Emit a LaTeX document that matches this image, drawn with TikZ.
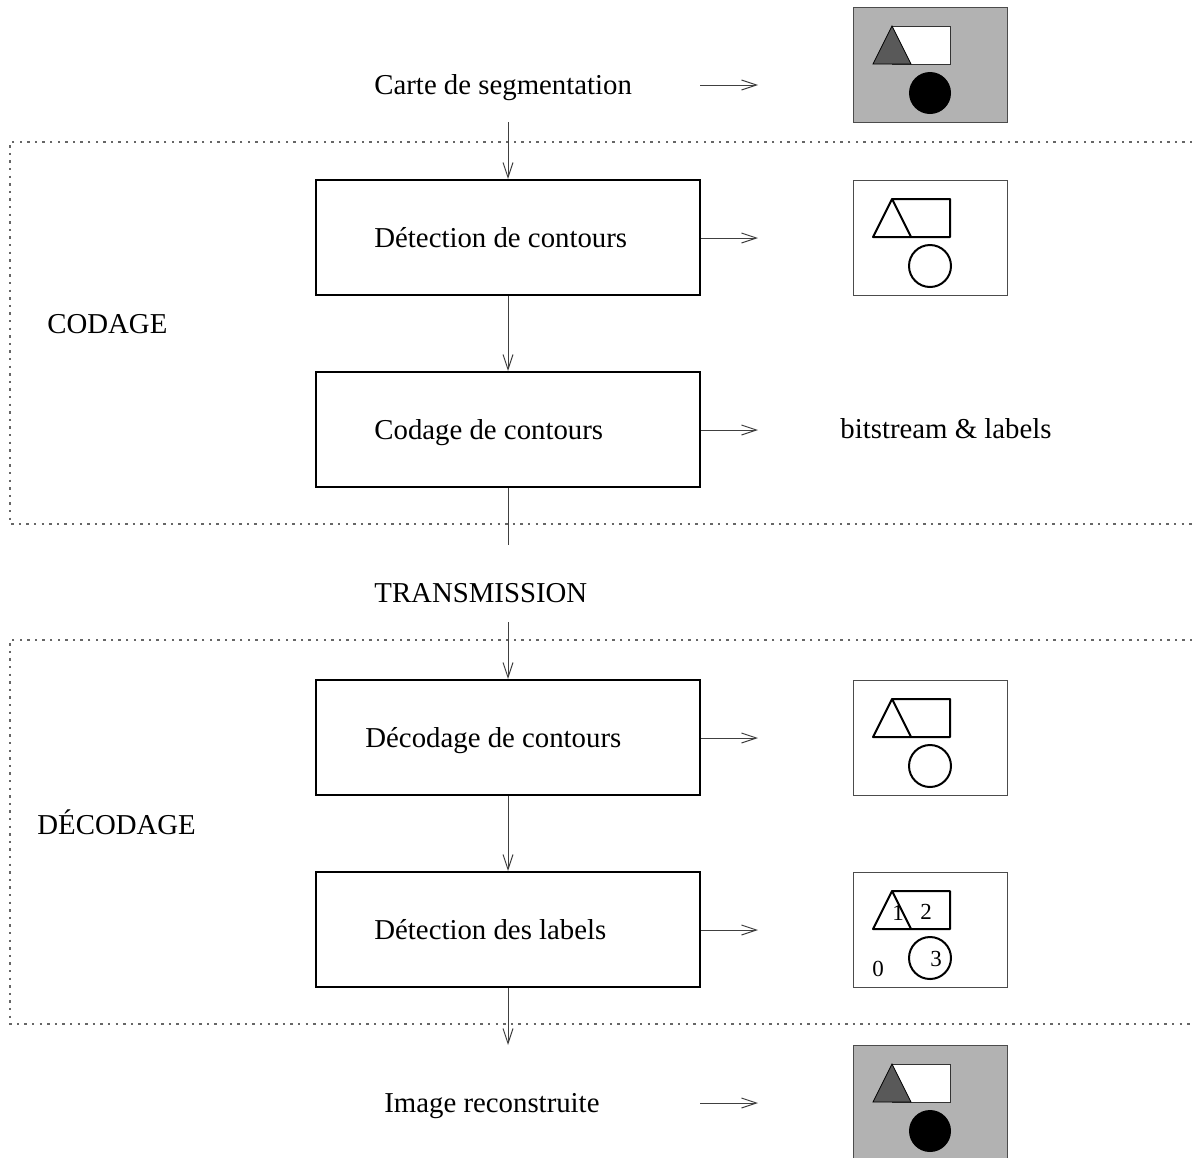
\documentclass[tikz,border=0pt]{standalone}
\usepackage{fontspec}
\setmainfont{Liberation Serif}
\usetikzlibrary{arrows.meta}

\definecolor{mapgray}{gray}{0.70}
\definecolor{darkshape}{gray}{0.35}

\tikzset{
  lbl/.style={anchor=base west, inner sep=0pt, font=\fontsize{14.4}{17}\selectfont},
  smalllbl/.style={inner sep=0pt, font=\fontsize{11.5}{13}\selectfont},
  stagebox/.style={draw=black, line width=1pt, minimum width=192pt, minimum height=57.5pt, inner sep=0pt},
  frame/.style={draw=black!70, line width=0.5pt, minimum width=77pt, minimum height=57.5pt, inner sep=0pt, outer sep=0pt},
  arr/.style={draw=black!75, line width=0.5pt, -{Straight Barb[length=7.5pt,width=5pt]}},
  link/.style={draw=black!75, line width=0.5pt},
  region/.style={draw=black!60, line width=0.6pt, dash pattern=on 1.2pt off 2.6pt},
  % segmentation map: grey background, dark triangle, white rectangle, black disc
  filledscene/.pic={
    \draw[black!80, line width=0.4pt, fill=white] (39,19) rectangle (97,57);
    \draw[black, line width=0.4pt, fill=darkshape] (20,57) -- (39,19) -- (58,57) -- cycle;
    \fill[black] (77,86) circle (21);
  },
  % contour map: outlines only
  outlinescene/.pic={
    \draw[black, line width=1pt, line join=round] (39,19) -- (97,19) -- (97,57) -- (20,57) -- (39,19) -- (58,57);
    \draw[black, line width=1pt] (77,86) circle (21);
  },
  % contour map with region labels
  labelscene/.pic={
    \draw[black, line width=1pt, line join=round] (39,19) -- (97,19) -- (97,57) -- (20,57) -- (39,19) -- (58,57);
    \draw[black, line width=1pt] (77,86) circle (21);
    \node[smalllbl] (n1) at (45,41) {1};
    \node[smalllbl] (n2) at (73,40) {2};
    \node[smalllbl] (n3) at (83,87) {3};
    \node[smalllbl] (n0) at (25,97) {0};
  }
}

\begin{document}
\begin{tikzpicture}[x=0.5pt, y=-0.5pt]
\useasboundingbox (0,0) rectangle (1192,1157);

% coding and decoding regions
\draw[region] (1200,142) -- (10,142) -- (10,524) -- (1200,524);
\draw[region] (1200,640) -- (10,640) -- (10,1024) -- (1200,1024);

% texts
\node[lbl] (carte) at (374,94) {Carte de segmentation};
\node[lbl] (codage) at (47,333) {CODAGE};
\node[lbl] (bits) at (840,438) {bitstream \& labels};
\node[lbl] (trans) at (374,602) {TRANSMISSION};
\node[lbl] (decodage) at (37,834) {DÉCODAGE};
\node[lbl] (recon) at (384,1112) {Image reconstruite};

% processing stages
\node[stagebox] (det) at (508,237.5) {};
\node[lbl] at (374,247) {Détection de contours};
\node[stagebox] (cod) at (508,429.5) {};
\node[lbl] at (374,439) {Codage de contours};
\node[stagebox] (dec) at (508,737.5) {};
\node[lbl] at (365,747) {Décodage de contours};
\node[stagebox] (lab) at (508,929.5) {};
\node[lbl] at (374,939) {Détection des labels};

% illustrations
\node[frame, fill=mapgray] (img1) at (930,64.5) {};
\pic at (img1.north west) {filledscene};
\node[frame] (img2) at (930,237.5) {};
\pic at (img2.north west) {outlinescene};
\node[frame] (img3) at (930,737.5) {};
\pic at (img3.north west) {outlinescene};
\node[frame] (img4) at (930,929.5) {};
\pic at (img4.north west) {labelscene};
\node[frame, fill=mapgray] (img5) at (930,1102.5) {};
\pic at (img5.north west) {filledscene};

% connector end points
\coordinate (inTop) at (508,122);
\coordinate (outCod) at (508,545);
\coordinate (inDec) at (508,622);
\coordinate (outLab) at (508,1045);
\coordinate (h0s) at (700,85);
\coordinate (h0e) at (758,85);
\coordinate (h1e) at (758,238);
\coordinate (h2e) at (758,430);
\coordinate (h3e) at (758,738);
\coordinate (h4e) at (758,930);
\coordinate (h5s) at (700,1103);
\coordinate (h5e) at (758,1103);

% vertical flow
\draw[arr] (inTop) -- (det.north);
\draw[arr] (det.south) -- (cod.north);
\draw[link] (cod.south) -- (outCod);
\draw[arr] (inDec) -- (dec.north);
\draw[arr] (dec.south) -- (lab.north);
\draw[arr] (lab.south) -- (outLab);

% horizontal outputs
\draw[arr] (h0s) -- (h0e);
\draw[arr] (det.east |- h1e) -- (h1e);
\draw[arr] (cod.east |- h2e) -- (h2e);
\draw[arr] (dec.east |- h3e) -- (h3e);
\draw[arr] (lab.east |- h4e) -- (h4e);
\draw[arr] (h5s) -- (h5e);
\end{tikzpicture}
\end{document}
